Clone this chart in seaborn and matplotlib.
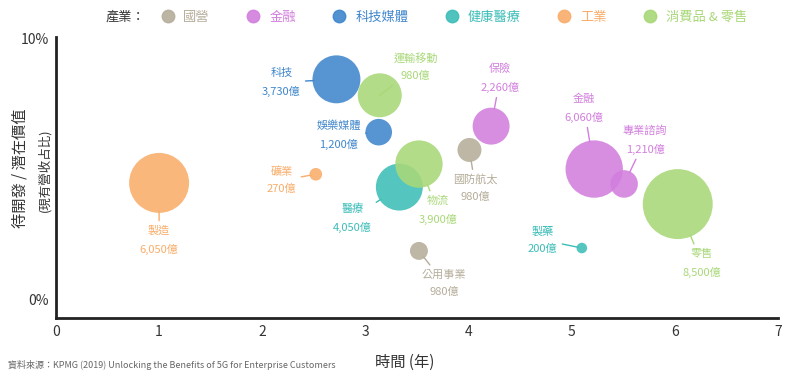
import pandas as pd
import matplotlib.pyplot as plt
import seaborn as sns
from matplotlib.lines import Line2D

# 產業分類與顏色
industries = ['國營', '金融', '科技媒體', '健康醫療', '工業', '消費品 & 零售']
colors = ['#b5ad9a', '#d27fdd', '#3f86cc', '#3dbdb8', '#f9ad6a', '#a8d878']

# 各子產業資料
sector = ['國防航太', '公用事業', '保險', '金融', '專業諮詢', '科技', '娛樂媒體',
          '醫療', '製藥', '製造', '礦業', '運輸移動', '物流', '零售']
industry = ['國營', '國營', '金融', '金融', '金融', '科技媒體', '科技媒體',
            '健康醫療', '健康醫療', '工業', '工業', '消費品 & 零售', '消費品 & 零售', '消費品 & 零售']
years = [4.01, 3.52, 4.22, 5.22, 5.51, 2.72, 3.13, 3.33, 5.10, 1.00, 2.52, 3.14, 3.52, 6.03]
share = [5.73, 1.87, 6.64, 5.00, 4.43, 8.43, 6.41, 4.31, 1.98, 4.47, 4.80, 7.82, 5.19, 3.66]
value = [980, 980, 2260, 6060, 1210, 3730, 1200, 4050, 200, 6050, 270, 980, 3900, 8500]
bubble = [144, 81, 342, 824, 190, 576, 177, 552, 28, 900, 40, 484, 562, 1225]

# 標籤位移 (像素)
label_off = [(6, -38), (25, -32), (9, 48), (-10, 61), (21, 44), (-55, -3), (-40, -3),
             (-47, -31), (-39, 8), (0, -57), (-34, -6), (36, 28), (19, -46), (24, -59)]

df = pd.DataFrame({'sector': sector, 'industry': industry, 'years': years,
                   'share': share, 'value': value, 'bubble': bubble})

sns.set_style('white')
plt.rcParams['font.family'] = ['Noto Sans CJK TC', 'DejaVu Sans']

fig, ax = plt.subplots(figsize=(7.92, 3.81), dpi=100)
fig.subplots_adjust(left=0.0707, right=0.982, bottom=0.165, top=0.903)

k = 2.07
sns.scatterplot(data=df, x='years', y='share', hue='industry', hue_order=industries,
                palette=colors, size='bubble', sizes=(k * min(bubble), k * max(bubble)),
                size_norm=(min(bubble), max(bubble)), alpha=0.88, linewidth=0,
                legend=False, ax=ax)

cmap = dict(zip(industries, colors))
for i, row in df.iterrows():
    c = cmap[row['industry']]
    r_pt = (bubble[i] ** 0.5) * 0.72
    ax.annotate(f"{row['sector']}\n{row['value']:,}億", xy=(row['years'], row['share']),
                xytext=label_off[i], textcoords='offset pixels', ha='center', va='center',
                color=c, fontsize=8, linespacing=1.85,
                arrowprops=dict(arrowstyle='-', color=c, lw=1, shrinkA=1, shrinkB=r_pt - 1))

ax.set_xlim(0, 7)
ax.set_ylim(-0.7, 10.05)
ax.set_xticks(range(8))
ax.set_yticks([0, 10])
ax.set_yticklabels(['0%', '10%'])
ax.tick_params(length=0, labelsize=10, labelcolor='#333333', pad=5)
ax.set_xlabel('')
ax.set_ylabel('')
sns.despine(ax=ax)
for s in ['left', 'bottom']:
    ax.spines[s].set_linewidth(2)
    ax.spines[s].set_color('#222222')

fig.text(405 / 792, 1 - 362 / 381, '時間 (年)', ha='center', va='center', fontsize=11, color='#333333')
fig.text(20 / 792, 1 - 168 / 381, '待開發 / 潛在價值', rotation=90, ha='center', va='center',
         fontsize=11, color='#333333')
fig.text(45 / 792, 1 - 170 / 381, '(現有營收占比)', rotation=90, ha='center', va='center',
         fontsize=9, color='#333333')
fig.text(8 / 792, 1 - 365 / 381,
         '資料來源：KPMG (2019) Unlocking the Benefits of 5G for Enterprise Customers',
         ha='left', va='center', fontsize=6.5, color='#666666')

# 圖例
fig.text(106 / 792, 1 - 17 / 381, '產業：', ha='left', va='center', fontsize=9.5, color='#333333')
handles = [Line2D([], [], marker='o', linestyle='', markersize=9, color=c, alpha=0.9) for c in colors]
fig.legend(handles, industries, loc='center left', bbox_to_anchor=(161 / 792, 1 - 17 / 381),
           ncol=6, frameon=False, fontsize=9.5, labelcolor=colors, handlelength=1,
           handletextpad=0.7, columnspacing=2.8, borderpad=0, borderaxespad=0)

fig.savefig('out.png', dpi=100)
